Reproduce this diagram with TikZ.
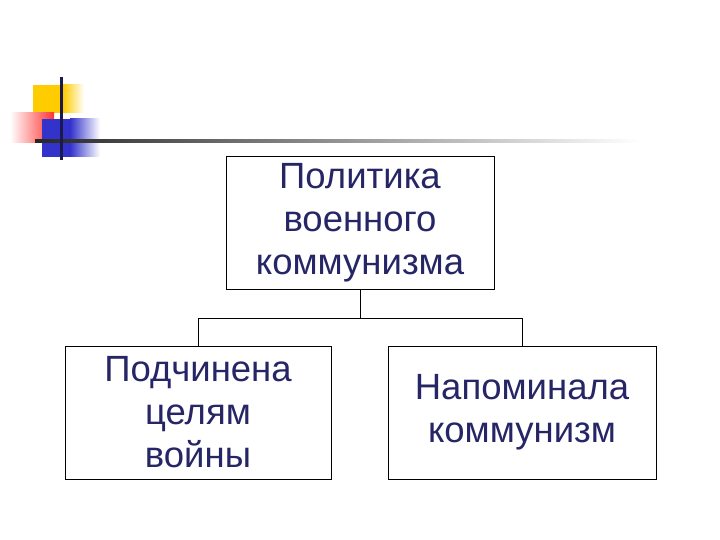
\documentclass[tikz,border=0pt]{standalone}
\usepackage{fontspec}
\setmainfont{Liberation Sans}
\definecolor{txt}{HTML}{262666}
\definecolor{dyel}{HTML}{FFCC00}
\definecolor{dred}{HTML}{FF3333}
\definecolor{dblue}{HTML}{3333CC}
\definecolor{dnavy}{HTML}{1A1A4D}
\begin{document}
\begin{tikzpicture}[x=1pt,y=-1pt,
  box/.style={draw=black,line width=0.8pt,fill=white,align=center,inner sep=0pt,text=txt,font=\fontsize{36.5}{43}\selectfont},
  conn/.style={draw=black,line width=0.8pt}]
\useasboundingbox (0,0) rectangle (720,540);
% decoration
\fill[dyel] (33,85) rectangle (63,113);
\shade[left color=dyel, right color=white] (63,85) rectangle (84,113);
\shade[left color=white, right color=dred] (10,113) rectangle (54,143);
\fill[dblue] (42,119) rectangle (70,157);
\shade[left color=dblue, right color=white] (70,119) rectangle (100,157);
\shade[left color=black!85, right color=white] (35,140) rectangle (640,142.5);
\fill[dnavy] (60,77) rectangle (62.5,160);
% boxes
\node[box,minimum width=268pt,minimum height=133pt] (top) at (360,222.5) {Политика\\военного\\коммунизма};
\node[box,minimum width=266pt,minimum height=133pt] (left) at (198,412.5) {Подчинена\\целям\\войны};
\node[box,minimum width=268pt,minimum height=133pt] (right) at (522,412.5) {Напоминала\\коммунизм};
\coordinate (mid) at (360,318);
\draw[conn] (top.south) -- (mid);
\draw[conn] (mid) -| (left.north);
\draw[conn] (mid) -| (right.north);
\end{tikzpicture}
\end{document}
